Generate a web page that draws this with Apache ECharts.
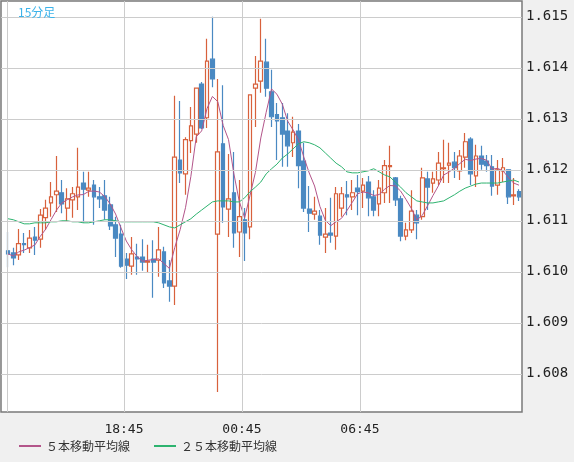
<!DOCTYPE html>
<html>
<head>
<meta charset="utf-8">
<script src="https://cdn.jsdelivr.net/npm/echarts@6/dist/echarts.min.js"></script>
<style>
  html, body { margin: 0; padding: 0; background: #f0f0f0; }
  #chart { width: 574px; height: 462px; }
</style>
</head>
<body>
<div id="chart"></div>
<script>
// 15分足 ローソク足 (始値, 終値, 安値, 高値)
const opens = [
  1.61041, 1.61037, 1.61033, 1.61055, 1.61047, 1.61068, 1.61064, 1.61106, 1.61135, 1.61151,
  1.61155, 1.61125, 1.61141, 1.61147, 1.61174, 1.61160, 1.61170, 1.61147, 1.61149, 1.61131,
  1.61092, 1.61074, 1.61025, 1.61011, 1.61029, 1.61029, 1.61019, 1.61025, 1.61023, 1.61039,
  1.60982, 1.60972, 1.61219, 1.61192, 1.61257, 1.61270, 1.61368, 1.61302, 1.61417, 1.61074,
  1.61251, 1.61123, 1.61155, 1.61078, 1.61102, 1.61088, 1.61360, 1.61374, 1.61411, 1.61353,
  1.61308, 1.61302, 1.61276, 1.61253, 1.61276, 1.61217, 1.61123, 1.61113, 1.61109, 1.61068,
  1.61076, 1.61070, 1.61125, 1.61151, 1.61147, 1.61164, 1.61158, 1.61176, 1.61147, 1.61133,
  1.61155, 1.61206, 1.61184, 1.61143, 1.61070, 1.61082, 1.61111, 1.61108, 1.61182, 1.61174,
  1.61180, 1.61202, 1.61209, 1.61215, 1.61198, 1.61225, 1.61260, 1.61188, 1.61227, 1.61217,
  1.61206, 1.61170, 1.61198, 1.61200, 1.61149, 1.61157
];
const closes = [
  1.61035, 1.61027, 1.61055, 1.61053, 1.61066, 1.61062, 1.61111, 1.61125, 1.61147, 1.61158,
  1.61133, 1.61143, 1.61153, 1.61166, 1.61162, 1.61164, 1.61147, 1.61143, 1.61121, 1.61090,
  1.61066, 1.61011, 1.61013, 1.61035, 1.61025, 1.61019, 1.61021, 1.61019, 1.61043, 1.60978,
  1.60972, 1.61225, 1.61194, 1.61259, 1.61286, 1.61360, 1.61282, 1.61413, 1.61378, 1.61235,
  1.61127, 1.61143, 1.61076, 1.61108, 1.61076, 1.61347, 1.61368, 1.61413, 1.61360, 1.61304,
  1.61296, 1.61270, 1.61247, 1.61274, 1.61208, 1.61125, 1.61115, 1.61119, 1.61072, 1.61074,
  1.61072, 1.61153, 1.61153, 1.61147, 1.61155, 1.61157, 1.61170, 1.61145, 1.61121, 1.61164,
  1.61208, 1.61208, 1.61141, 1.61070, 1.61082, 1.61119, 1.61096, 1.61184, 1.61166, 1.61182,
  1.61213, 1.61204, 1.61213, 1.61204, 1.61227, 1.61255, 1.61192, 1.61227, 1.61211, 1.61208,
  1.61168, 1.61200, 1.61204, 1.61147, 1.61151, 1.61147
];
const lows = [
  1.61009, 1.61013, 1.61023, 1.61037, 1.61037, 1.61033, 1.61047, 1.61082, 1.61108, 1.61117,
  1.61115, 1.61098, 1.61106, 1.61121, 1.61096, 1.61147, 1.61092, 1.61125, 1.61102, 1.61082,
  1.61029, 1.61008, 1.60986, 1.60994, 1.60994, 1.61002, 1.60998, 1.60949, 1.60990, 1.60968,
  1.60941, 1.60935, 1.61174, 1.61151, 1.61233, 1.61253, 1.61280, 1.61282, 1.61362, 1.60764,
  1.61096, 1.61068, 1.61047, 1.61029, 1.61021, 1.61064, 1.61284, 1.61351, 1.61343, 1.61284,
  1.61219, 1.61206, 1.61206, 1.61225, 1.61164, 1.61117, 1.61078, 1.61102, 1.61053, 1.61037,
  1.61057, 1.61043, 1.61108, 1.61111, 1.61121, 1.61111, 1.61125, 1.61109, 1.61109, 1.61109,
  1.61135, 1.61135, 1.61129, 1.61060, 1.61062, 1.61076, 1.61064, 1.61102, 1.61121, 1.61155,
  1.61170, 1.61174, 1.61174, 1.61184, 1.61180, 1.61204, 1.61170, 1.61166, 1.61200, 1.61196,
  1.61149, 1.61151, 1.61176, 1.61133, 1.61131, 1.61139
];
const highs = [
  1.61078, 1.61047, 1.61084, 1.61076, 1.61082, 1.61088, 1.61123, 1.61141, 1.61176, 1.61227,
  1.61180, 1.61164, 1.61166, 1.61243, 1.61196, 1.61196, 1.61180, 1.61166, 1.61180, 1.61147,
  1.61108, 1.61092, 1.61037, 1.61068, 1.61055, 1.61064, 1.61053, 1.61062, 1.61088, 1.61049,
  1.61023, 1.61345, 1.61335, 1.61264, 1.61323, 1.61360, 1.61372, 1.61457, 1.61500, 1.61378,
  1.61366, 1.61231, 1.61235, 1.61180, 1.61125, 1.61347, 1.61423, 1.61496, 1.61457, 1.61396,
  1.61331, 1.61331, 1.61311, 1.61304, 1.61290, 1.61253, 1.61168, 1.61147, 1.61121, 1.61125,
  1.61145, 1.61166, 1.61166, 1.61178, 1.61180, 1.61190, 1.61184, 1.61188, 1.61160, 1.61180,
  1.61219, 1.61247, 1.61186, 1.61149, 1.61096, 1.61160, 1.61121, 1.61204, 1.61196, 1.61196,
  1.61235, 1.61259, 1.61253, 1.61235, 1.61239, 1.61272, 1.61264, 1.61249, 1.61247, 1.61229,
  1.61229, 1.61219, 1.61223, 1.61200, 1.61184, 1.61162
];
// ２５本移動平均線 (チャートから読み取り)
const ma25 = [
  1.61104, 1.61102, 1.61098, 1.61094, 1.61094, 1.61096, 1.61096, 1.61096, 1.61098, 1.61098,
  1.61100, 1.61100, 1.61098, 1.61098, 1.61096, 1.61096, 1.61098, 1.61100, 1.61102, 1.61102,
  1.61100, 1.61098, 1.61098, 1.61098, 1.61098, 1.61098, 1.61098, 1.61098, 1.61096, 1.61092,
  1.61088, 1.61086, 1.61092, 1.61098, 1.61104, 1.61113, 1.61121, 1.61129, 1.61137, 1.61139,
  1.61139, 1.61139, 1.61137, 1.61137, 1.61145, 1.61157, 1.61166, 1.61176, 1.61192, 1.61202,
  1.61211, 1.61223, 1.61231, 1.61241, 1.61251, 1.61255, 1.61253, 1.61249, 1.61243, 1.61233,
  1.61223, 1.61213, 1.61206, 1.61196, 1.61194, 1.61194, 1.61196, 1.61198, 1.61202, 1.61196,
  1.61190, 1.61186, 1.61176, 1.61166, 1.61155, 1.61147, 1.61139, 1.61137, 1.61135, 1.61135,
  1.61137, 1.61139, 1.61145, 1.61151, 1.61158, 1.61164, 1.61168, 1.61172, 1.61174, 1.61174,
  1.61174, 1.61174, 1.61176, 1.61178, 1.61180, 1.61176
];
// 軸目盛り
const yTicks = [1.608, 1.609, 1.610, 1.611, 1.612, 1.613, 1.614, 1.615];
const xTickPos = [-0.19, 21.56, 43.49, 65.43];
const xTickLabels = ['', '18:45', '00:45', '06:45'];

// ５本移動平均線
const ma5 = closes.map((c, i) => {
  const s = closes.slice(Math.max(0, i - 4), i + 1);
  return [i, s.reduce((a, b) => a + b, 0) / s.length];
});

const UP = '#d8613c', DOWN = '#4a89c2';
const MA5C = '#b3558a', MA25C = '#2db36f';
const chart = echarts.init(document.getElementById('chart'));

chart.setOption({
  animation: false,
  backgroundColor: '#f0f0f0',
  textStyle: { fontFamily: 'DejaVu Sans' },
  title: {
    text: '15分足', left: 13, top: 1,
    textStyle: { color: '#3cb3ea', fontSize: 12, fontWeight: 'normal', fontFamily: 'Noto Sans CJK JP' }
  },
  legend: {
    left: 14, bottom: 5, itemWidth: 22, itemHeight: 2, itemGap: 24, icon: 'rect',
    data: [
      { name: '５本移動平均線', itemStyle: { color: MA5C } },
      { name: '２５本移動平均線', itemStyle: { color: MA25C } }
    ],
    textStyle: { color: '#333', fontSize: 12, fontFamily: 'Noto Sans CJK JP' }
  },
  grid: {
    left: 1, top: 1, right: 52, bottom: 50, show: true,
    backgroundColor: '#fff', borderColor: '#7a7a7a', borderWidth: 1.5
  },
  xAxis: {
    type: 'value', min: -1.3, max: 95.56,
    axisLine: { show: false }, axisTick: { show: false },
    axisLabel: { show: false }, splitLine: { show: false }
  },
  yAxis: {
    type: 'value', position: 'right', min: 1.60725, max: 1.61531,
    axisLine: { show: false }, axisTick: { show: false },
    axisLabel: { show: false }, splitLine: { show: false }
  },
  series: [
    {
      // 目盛り線の下地（透明な系列に markLine を付ける）
      type: 'line', silent: true, clip: false, z: 1, symbol: 'none',
      data: ma25.map((v, i) => [i, v]),
      lineStyle: { opacity: 0 },
      markLine: {
        silent: true, symbol: 'none', animation: false, precision: 3,
        lineStyle: { color: '#cccccc', type: 'solid', width: 1 },
        data: [
          ...yTicks.map(v => ({
            yAxis: v,
            label: { show: true, position: 'end', distance: 4, formatter: v.toFixed(3),
                     color: '#222', fontSize: 14, fontFamily: 'DejaVu Sans Mono' }
          })),
          ...xTickPos.map((v, i) => ({
            xAxis: v,
            label: { show: true, position: 'start', distance: 11, formatter: xTickLabels[i],
                     color: '#222', fontSize: 13, fontFamily: 'DejaVu Sans Mono' }
          }))
        ]
      }
    },
    {
      type: 'candlestick', z: 3, barWidth: 4.2,
      data: opens.map((o, i) => [i, o, closes[i], lows[i], highs[i]]),
      encode: { x: 0, y: [1, 2, 3, 4] },
      itemStyle: {
        color: '#fff', color0: DOWN, borderColor: UP, borderColor0: DOWN, borderWidth: 1.2
      }
    },
    {
      name: '５本移動平均線', type: 'line', z: 4, symbol: 'none', data: ma5,
      lineStyle: { color: MA5C, width: 1 }, itemStyle: { color: MA5C }
    },
    {
      name: '２５本移動平均線', type: 'line', z: 4, symbol: 'none',
      data: ma25.map((v, i) => [i, v]),
      lineStyle: { color: MA25C, width: 1 }, itemStyle: { color: MA25C }
    }
  ]
});
</script>
</body>
</html>
